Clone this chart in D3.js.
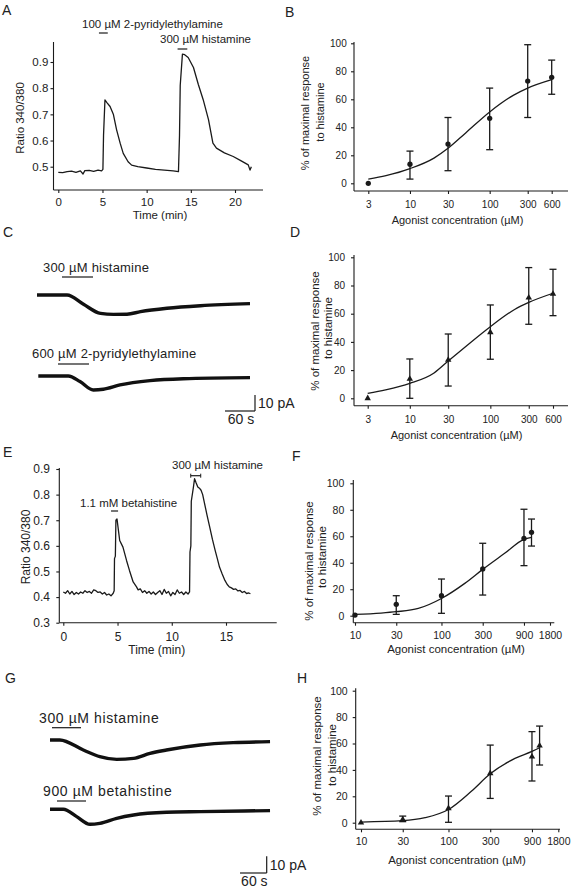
<!DOCTYPE html>
<html><head><meta charset="utf-8">
<script src="https://cdn.jsdelivr.net/npm/d3@7/dist/d3.min.js"></script>
<style>
body{margin:0;background:#fff}
svg{display:block;background:#fff}
text{font-family:"Liberation Sans",Arial,sans-serif;fill:#222}
</style>
</head><body>
<svg id="c" width="573" height="890"></svg>
<script>
// ---------------- DATA ----------------
// Panel A: Fura-2 ratio trace
const traceA_time = [0,0.5,1,1.5,2,2.5,2.8,3,3.5,4,4.5,4.9,5.05,5.12,5.28,5.5,5.86,6.24,6.6,7.0,7.35,7.9,8.3,9,10,11,12,13,13.6,13.72,13.8,14.05,14.3,14.7,15.3,15.85,16.4,17.0,17.5,17.9,18.8,19.8,20.7,21.5,21.7,21.85];
const traceA_ratio = [0.478,0.477,0.481,0.483,0.478,0.484,0.472,0.485,0.486,0.482,0.487,0.484,0.49,0.62,0.755,0.745,0.73,0.699,0.641,0.59,0.551,0.519,0.506,0.5,0.495,0.49,0.487,0.484,0.481,0.62,0.81,0.93,0.928,0.917,0.879,0.814,0.756,0.68,0.59,0.571,0.553,0.539,0.522,0.507,0.487,0.5];
const ticksA_time = [0,5,10,15,20];
const ticksA_ratio = [0.5,0.6,0.7,0.8,0.9];
const barsA = [[4.6,5.6],[13.5,14.6]];
const labelsA = ["100 µM 2-pyridylethylamine","300 µM histamine"];

// Panel B: 2-pyridylethylamine, Fura-2
const doseB = [3,10,30,100,300,600];
const meanB = [0,13.6,28,46.4,73,75.7];
const hiB = [0,23,47,68,99,88];
const loB = [0,3,9,24,47,63.6];
const fitB_conc = [3,5,10,20,30,50,100,200,300,600];
const fitB_val = [3,5.5,10.5,18,25,36,51,63,68,74];
const ticksB_conc = [3,10,30,100,300,600];
const ticksPct = [0,20,40,60,80,100];

// Panel C: currents
const C1_time = [0,60,93,127,153,180,207,260,327,426];
const C1_pA = [0,0,-5.8,-11.5,-12.1,-12,-10.4,-8.3,-6.7,-5.4];
const C2_time = [2.6,62.6,86,112.6,132.6,166,226,292.6,426];
const C2_pA = [0,0,-3.5,-8.75,-8.3,-5.6,-2.9,-1.7,-1];
const labelsC = ["300 µM histamine","600 µM  2-pyridylethylamine"];

// Panel D: 2-pyridylethylamine, currents
const doseD = [3,10,30,100,300,600];
const meanD = [0,13.7,27.2,46.8,71.4,74];
const hiD = [0,27.9,45.6,66.2,92.7,91.5];
const loD = [0,0,8.7,27.7,52.5,58.6];
const fitD_conc = [3,5,10,20,30,50,100,200,300,600];
const fitD_val = [3.5,6,10.6,18,26.5,37,50.8,63,68,74.5];

// Panel E: betahistine ratio trace
const traceE_time = [0,0.2,0.4,0.6,0.8,1.0,1.2,1.4,1.6,1.8,2.0,2.2,2.4,2.6,2.8,3.0,3.2,3.4,3.6,3.8,4.0,4.2,4.4,4.6,4.69,4.72,4.8,4.85,4.95,5.2,5.5,5.83,6.1,6.44,6.75,6.9,7.1,7.3,7.5,7.7,7.9,8.1,8.3,8.5,8.7,8.9,9.1,9.3,9.5,9.7,9.9,10.1,10.3,10.5,10.7,10.9,11.1,11.3,11.5,11.64,11.68,11.76,11.8,12.0,12.1,12.25,12.4,12.55,12.7,12.85,13.0,13.25,13.5,13.75,14.0,14.2,14.4,14.65,14.9,15.1,15.3,15.5,15.7,15.9,16.1,16.3,16.5,16.7,16.9,17.1,17.25];
const traceE_ratio = [0.42,0.415,0.425,0.412,0.422,0.41,0.418,0.412,0.42,0.415,0.425,0.418,0.422,0.415,0.428,0.425,0.418,0.42,0.412,0.418,0.408,0.412,0.405,0.415,0.425,0.55,0.56,0.7,0.705,0.621,0.595,0.543,0.504,0.459,0.44,0.428,0.432,0.418,0.425,0.415,0.422,0.412,0.42,0.41,0.418,0.425,0.41,0.43,0.415,0.422,0.405,0.418,0.41,0.428,0.415,0.42,0.41,0.42,0.412,0.42,0.576,0.6,0.774,0.83,0.862,0.845,0.83,0.825,0.817,0.8,0.77,0.72,0.673,0.625,0.582,0.55,0.517,0.49,0.465,0.45,0.44,0.436,0.43,0.432,0.424,0.426,0.418,0.422,0.414,0.416,0.413];
const ticksE_time = [0,5,10,15];
const ticksE_ratio = [0.3,0.4,0.5,0.6,0.7,0.8,0.9];
const barsE = [[4.4,5.05],[11.75,12.67]];
const labelsE = ["1.1 mM betahistine","300 µM histamine"];

// Panel F: betahistine, Fura-2
const doseF = [10,30,100,300,900,1100];
const meanF = [0.5,8.6,15.1,35.3,58.4,63];
const hiF = [0.5,15.1,27.7,54.7,80.4,73];
const loF = [0.5,1,1.8,15.6,37.8,52.6];
const fitF_conc = [10,20,30,54,100,186,300,538,900,1100];
const fitF_val = [1,2,3,5.5,13,24.4,35,47.1,57.7,59.2];
const ticksF_conc = [10,30,100,300,900,1800];

// Panel G: currents
const G1_time = [0,22,75,112,150,188,225,262,338,412,495];
const G1_pA = [0,0,-6,-10,-11.6,-11,-8,-6,-3,-1.6,-1];
const G2_time = [0,30,60,90,112,150,188,262,338,495];
const G2_pA = [0,0,-4.4,-9,-8.4,-5.4,-3.4,-1.8,-1.4,-0.8];
const labelsG = ["300 µM histamine","900 µM  betahistine"];

// Panel H: betahistine, currents
const doseH = [10,30,100,300,900,1100];
const meanH = [0,2.5,10.9,37.4,50,58.3];
const hiH = [0,5,20.2,58.8,69,73.2];
const loH = [0,0.8,0.3,18.4,31.6,43.7];
const fitH_conc = [10,30,54,100,184,300,575,900,1100];
const fitH_val = [0.5,1.5,3.8,10,24,37,48.7,54,56.8];

const panelLetters = ["A","B","C","D","E","F","G","H"];
const yLabelDR = ["% of maximal response","to histamine"];
const xLabelDR = "Agonist concentration (µM)";
const xLabelTime = "Time (min)";
const yLabelRatio = "Ratio 340/380";

// ---------------- DRAWING ----------------
const svg = d3.select("#c");
const INK = "#1a1a1a";

function styleAxis(sel, size){
  sel.select(".domain").remove();
  sel.selectAll("line").attr("stroke", INK).attr("stroke-width", 1.1);
  sel.selectAll("text").attr("font-family",'"Liberation Sans",Arial,sans-serif').attr("font-size", size).attr("fill","#222");
  sel.attr("font-family", null).attr("font-size", null);
}
function line(g,x1,y1,x2,y2,w){
  g.append("line").attr("x1",x1).attr("y1",y1).attr("x2",x2).attr("y2",y2)
   .attr("stroke",INK).attr("stroke-width",w||1.1);
}
function txt(g,x,y,s,size,anchor,extra){
  const t = g.append("text").attr("x",x).attr("y",y).attr("dy","0.35em")
    .attr("font-size",size).attr("text-anchor",anchor||"start").text(s);
  if(extra) extra(t);
  return t;
}

// time-trace panel
function timePanel(o){
  const g = svg.append("g");
  const x = d3.scaleLinear().domain(o.xDom).range(o.xRange);
  const y = d3.scaleLinear().domain(o.yDom).range(o.yRange);
  line(g,o.left,o.top,o.left,o.bottom);
  line(g,o.left,o.bottom,o.right,o.bottom);
  g.append("g").attr("transform",`translate(0,${o.bottom})`)
    .call(d3.axisBottom(x).tickValues(o.xTicks).tickSize(3).tickPadding(o.xPad).tickFormat(d3.format("d")))
    .call(s=>styleAxis(s,o.tickSize));
  g.append("g").attr("transform",`translate(${o.left},0)`)
    .call(d3.axisLeft(y).tickValues(o.yTicks).tickSize(3).tickPadding(o.yPad).tickFormat(d3.format(".1f")))
    .call(s=>styleAxis(s,o.tickSize));
  g.append("path").datum(d3.zip(o.t,o.r))
    .attr("d", d3.line().x(d=>x(d[0])).y(d=>y(d[1])))
    .attr("fill","none").attr("stroke",INK).attr("stroke-width",1.3).attr("stroke-linejoin","round");
  txt(g,o.xTitle[0],o.xTitle[1],xLabelTime,o.titleSize,"middle");
  txt(g,0,0,yLabelRatio,o.titleSize,"middle").attr("transform",`translate(${o.yTitle[0]},${o.yTitle[1]}) rotate(-90)`);
  o.bars.forEach((b,i)=>{
    const by = o.barY[i];
    line(g,x(b[0]),by,x(b[1]),by,1.2);
    if(o.caps && o.caps[i]){ line(g,x(b[0]),by-2,x(b[0]),by+2,1); line(g,x(b[1]),by-2,x(b[1]),by+2,1); }
    txt(g,o.labelPos[i][0],o.labelPos[i][1],o.labels[i],o.labelSize,"start");
  });
}

// dose-response panel
function drPanel(o){
  const g = svg.append("g");
  const x = d3.scaleLog().domain(o.xDom).range(o.xRange);
  const y = d3.scaleLinear().domain([0,100]).range(o.yRange);
  line(g,o.left,o.top,o.left,o.bottom);
  line(g,o.left,o.bottom,o.right,o.bottom);
  g.append("g").attr("transform",`translate(0,${o.bottom})`)
    .call(d3.axisBottom(x).tickValues(o.xTicks).tickSize(3).tickPadding(o.xPad).tickFormat(d3.format("d")))
    .call(s=>styleAxis(s,o.tickSize));
  g.append("g").attr("transform",`translate(${o.left},0)`)
    .call(d3.axisLeft(y).tickValues(ticksPct).tickSize(3).tickPadding(o.yPad).tickFormat(d3.format("d")))
    .call(s=>styleAxis(s,o.tickSize));
  // fitted curve
  g.append("path").datum(d3.zip(o.fitX,o.fitY))
    .attr("d", d3.line().x(d=>x(d[0])).y(d=>y(d[1])).curve(d3.curveMonotoneX))
    .attr("fill","none").attr("stroke",INK).attr("stroke-width",1.3);
  // error bars
  o.dose.forEach((d,i)=>{
    if(o.hi[i]-o.lo[i] > 0.5){
      const cx = x(d);
      line(g,cx,y(o.hi[i]),cx,y(o.lo[i]),1.3);
      line(g,cx-3.5,y(o.hi[i]),cx+3.5,y(o.hi[i]),1.3);
      line(g,cx-3.5,y(o.lo[i]),cx+3.5,y(o.lo[i]),1.3);
    }
  });
  const sym = d3.symbol().type(o.marker==="tri"?d3.symbolTriangle:d3.symbolCircle).size(o.marker==="tri"?18:22);
  g.selectAll("path.m").data(o.dose).enter().append("path").attr("class","m")
    .attr("transform",(d,i)=>`translate(${x(d)},${y(o.mean[i])})`)
    .attr("d",sym()).attr("fill",INK);
  txt(g,o.xTitle[0],o.xTitle[1],xLabelDR,o.titleSize,"middle");
  yLabelDR.forEach((s,i)=>{
    txt(g,0,0,s,o.ySize,"middle").attr("transform",`translate(${o.yTitle[i][0]},${o.yTitle[i][1]}) rotate(-90)`);
  });
}

// current-trace panel
function currentPanel(o){
  const g = svg.append("g");
  const x = d3.scaleLinear().domain([0,60]).range([o.x0,o.x0+o.px60]);
  o.traces.forEach((tr,i)=>{
    const y = d3.scaleLinear().domain([0,-10]).range([tr.base,tr.base+o.px10]);
    g.append("path").datum(d3.zip(tr.t,tr.v))
      .attr("d", d3.line().x(d=>x(d[0])).y(d=>y(d[1])).curve(d3.curveMonotoneX))
      .attr("fill","none").attr("stroke","#111").attr("stroke-width",3.4).attr("stroke-linecap","butt");
    line(g,o.bar[i][0],o.bar[i][2],o.bar[i][1],o.bar[i][2],1.2);
    txt(g,o.labelPos[i][0],o.labelPos[i][1],o.labels[i],o.labelSize,"start",t=>t.attr("letter-spacing",o.ls||0));
  });
  // scale bar
  const sb = o.scaleBar;
  const yS = d3.scaleLinear().domain([0,10]).range([sb.y, sb.y-o.px10]);
  const x2 = x(sb.t0+60);
  line(g,x(sb.t0),sb.y,x2,sb.y,1.2);
  line(g,x2,yS(0),x2,yS(10),1.2);
  txt(g,x2+3,(yS(0)+yS(10))/2,"10 pA",14,"start");
  txt(g,(x(sb.t0)+x2)/2+1,sb.y+8,"60 s",14,"middle");
}

// ---- Panel A
timePanel({xDom:[0,20],xRange:[58.3,235],yDom:[0.5,0.9],yRange:[166.7,62],
  left:53.5,right:263,top:42,bottom:190,xTicks:ticksA_time,yTicks:ticksA_ratio,
  xPad:4.5,yPad:2.2,tickSize:"11.5px",t:traceA_time,r:traceA_ratio,
  xTitle:[160,215],yTitle:[20,118],titleSize:"11.5px",
  bars:barsA,barY:[33,49],labels:labelsA,labelPos:[[82,24],[160,39]],labelSize:"11.5px"});

// ---- Panel B
drPanel({xDom:[3,600],xRange:[368.3,551.7],yRange:[183.3,43.3],left:354,right:568,top:42,bottom:191,
  xTicks:ticksB_conc,xPad:7,yPad:4.3,tickSize:"10px",
  fitX:fitB_conc,fitY:fitB_val,dose:doseB,mean:meanB,hi:hiB,lo:loB,marker:"circ",
  xTitle:[457.5,220],titleSize:"11px",yTitle:[[305,113],[320,112]],ySize:"11px"});

// ---- Panel C
currentPanel({x0:37,px60:30,px10:16,
  traces:[{t:C1_time,v:C1_pA,base:295},{t:C2_time,v:C2_pA,base:376}],
  bar:[[62,93,277],[58,89,364]],labels:labelsC,labelPos:[[43,267],[32,353]],labelSize:"13px",ls:0.2,
  scaleBar:{t0:376,y:411}});

// ---- Panel D
drPanel({xDom:[3,600],xRange:[367.7,553],yRange:[398.3,257.3],left:354,right:568,top:255,bottom:405.7,
  xTicks:ticksB_conc,xPad:7.5,yPad:6,tickSize:"10px",
  fitX:fitD_conc,fitY:fitD_val,dose:doseD,mean:meanD,hi:hiD,lo:loD,marker:"tri",
  xTitle:[456.5,435],titleSize:"11px",yTitle:[[315,331],[328,328]],ySize:"11.5px"});

// ---- Panel E
timePanel({xDom:[0,15],xRange:[63.3,226],yDom:[0.3,0.9],yRange:[622.7,469],
  left:59.3,right:276.7,top:468,bottom:622.7,xTicks:ticksE_time,yTicks:ticksE_ratio,
  xPad:6.5,yPad:6.3,tickSize:"12px",t:traceE_time,r:traceE_ratio,
  xTitle:[156.7,649.3],yTitle:[26,547],titleSize:"12px",
  bars:barsE,barY:[511,475.7],caps:[false,true],labels:labelsE,labelPos:[[80,503],[172,465]],labelSize:"11.5px"});

// ---- Panel F
drPanel({xDom:[10,1800],xRange:[355,550],yRange:[615.7,483.3],left:353.3,right:554.3,top:480,bottom:622.7,
  xTicks:ticksF_conc,xPad:5.7,yPad:6,tickSize:"10.5px",
  fitX:fitF_conc,fitY:fitF_val,dose:doseF,mean:meanF,hi:hiF,lo:loF,marker:"circ",
  xTitle:[456,649],titleSize:"11.5px",yTitle:[[309,561],[322,557]],ySize:"11.5px"});

// ---- Panel G
currentPanel({x0:50,px60:26.67,px10:16.67,
  traces:[{t:G1_time,v:G1_pA,base:740},{t:G2_time,v:G2_pA,base:809.3}],
  bar:[[52,81,727.7],[57,86,801]],labels:labelsG,labelPos:[[39,718],[43,791]],labelSize:"14px",ls:0.6,
  scaleBar:{t0:427.5,y:873}});

// ---- Panel H
drPanel({xDom:[10,1800],xRange:[361,558.3],yRange:[822.7,690.7],left:355.7,right:560,top:688.3,bottom:829.3,
  xTicks:ticksF_conc,xPad:5,yPad:5,tickSize:"10.5px",
  fitX:fitH_conc,fitY:fitH_val,dose:doseH,mean:meanH,hi:hiH,lo:loH,marker:"tri",
  xTitle:[457,860],titleSize:"11.5px",yTitle:[[317,756],[332,755]],ySize:"11.5px"});

// panel letters
const letterPos = [[2,10],[285,12],[3,232.5],[290,232.5],[3,452],[292,456],[5,678],[297,678]];
panelLetters.forEach((L,i)=>{
  txt(svg,letterPos[i][0],letterPos[i][1],L,"14px","start").attr("fill","#333");
});
</script>
</body></html>
